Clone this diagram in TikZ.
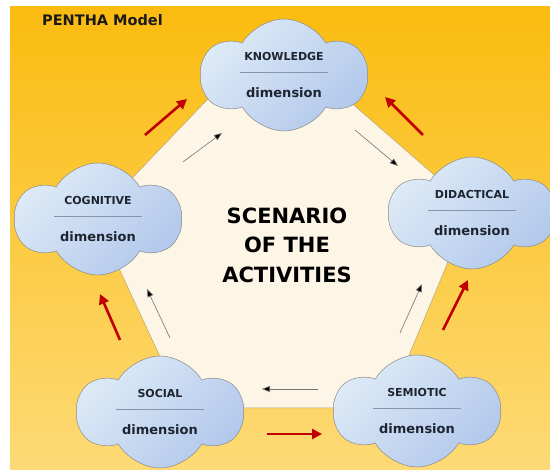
\documentclass[tikz,border=0pt]{standalone}
\usepackage{fontspec}
\setmainfont{DejaVu Sans}
\usetikzlibrary{shapes.symbols,arrows.meta}

\definecolor{bgtop}{HTML}{FBBC10}
\definecolor{bgbot}{HTML}{FDDA76}
\definecolor{scene}{HTML}{FDF5E5}
\definecolor{sceneedge}{HTML}{B8A275}
\definecolor{cloudA}{HTML}{DDEAF7}
\definecolor{cloudB}{HTML}{B2C8EB}
\definecolor{cloudedge}{HTML}{8A8A8A}
\definecolor{redarr}{HTML}{C00000}
\definecolor{sepline}{HTML}{8795A8}
\definecolor{txt}{HTML}{1E2530}

\tikzset{
  dimcloud/.style={cloud, cloud puffs=6, cloud puff arc=120, cloud ignores aspect,
    minimum width=166pt, minimum height=112pt, inner sep=0pt,
    draw=cloudedge, line width=0.5pt, left color=cloudA, right color=cloudB, shading angle=45,
    align=center, text=txt, font=\bfseries\fontsize{11}{12}\selectfont},
  redarrow/.style={draw=redarr, line width=2.6pt, -{Triangle[length=10pt,width=10pt]}},
  thinarrow/.style={draw=black!55, line width=0.6pt, -{Triangle[length=8pt,width=6pt,fill=black]}}
}
\newcommand{\dimtext}[1]{#1\\\textcolor{sepline}{\rule{88pt}{0.6pt}}\\[13pt]{\fontsize{13}{12}\selectfont dimension}}

\begin{document}
\begin{tikzpicture}[x=1pt,y=-1pt]
  \useasboundingbox (0,0) rectangle (550,470);
  \shade[top color=bgtop, bottom color=bgbot] (10,7) rectangle (550,470);

  \coordinate (P1) at (271,33);
  \coordinate (P2) at (471,207);
  \coordinate (P3) at (387,408);
  \coordinate (P4) at (184,408);
  \coordinate (P5) at (95,217);
  \filldraw[fill=scene, draw=sceneedge, line width=0.5pt] (P1) -- (P2) -- (P3) -- (P4) -- (P5) -- cycle;

  \foreach \n/\xa/\ya/\xb/\yb in {1/145/135/187/99, 2/423/135/385/97, 3/443/330/468/280, 4/267/434/322/434, 5/120/340/100/294}{
    \coordinate (R\n a) at (\xa,\ya);
    \coordinate (R\n b) at (\xb,\yb);
  }
  \foreach \n/\xa/\ya/\xb/\yb in {1/183/162/222/133, 2/355/130/398/166, 3/400/333/422/284, 4/318/389/262/389, 5/170/338/147/289}{
    \coordinate (B\n a) at (\xa,\ya);
    \coordinate (B\n b) at (\xb,\yb);
  }
  \foreach \n in {1,...,5}{
    \draw[redarrow] (R\n a) -- (R\n b);
    \draw[thinarrow] (B\n a) -- (B\n b);
  }

  \node[dimcloud] (knowledge) at (284,75) {\dimtext{KNOWLEDGE}};
  \node[dimcloud] (cognitive) at (98,219) {\dimtext{COGNITIVE}};
  \node[dimcloud] (didactical) at (472,213) {\dimtext{DIDACTICAL}};
  \node[dimcloud] (social) at (160,412) {\dimtext{SOCIAL}};
  \node[dimcloud] (semiotic) at (417,411) {\dimtext{SEMIOTIC}};

  \node[align=center, font=\bfseries\fontsize{21}{29.5}\selectfont, text=black] (scenario) at (287,245) {SCENARIO\\OF THE\\ACTIVITIES};
  \node[anchor=base west, inner sep=0pt, font=\bfseries\fontsize{14.5}{16}\selectfont, text=black!90] (title) at (42,26) {PENTHA Model};
\end{tikzpicture}
\end{document}
